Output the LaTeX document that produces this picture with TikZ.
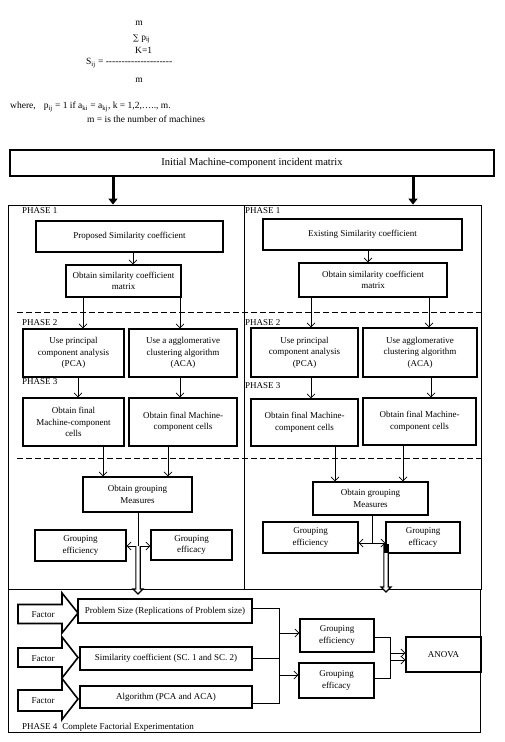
\documentclass[tikz,border=0pt]{standalone}
\usepackage{fontspec}
\setmainfont{Liberation Serif}
\newfontfamily\djv{DejaVu Serif}
\usetikzlibrary{arrows.meta}
\newcommand\bxf{\fontsize{9}{11.5}\selectfont}
\newcommand\bgf{\fontsize{10.5}{12}\selectfont}
\newcommand\frf{\fontsize{9.5}{11}\selectfont}
\begin{document}
\begin{tikzpicture}[x=1pt,y=-1pt,
 box/.style={draw,line width=1.4pt,align=center,inner sep=1pt,font=\bxf},
 frm/.style={draw,line width=0.8pt,inner sep=0pt},
 lab/.style={inner sep=0pt,font=\bxf,anchor=west},
 ftx/.style={inner sep=0pt,font=\frf},
 conn/.style={line width=0.7pt},
 arr/.style={line width=0.7pt,-{Straight Barb[length=4pt,width=8pt]}},
 fat/.style={line width=3pt,-{Triangle[length=6pt,width=9pt]}},
 dsh/.style={line width=0.7pt,dash pattern=on 6pt off 3pt},
 dbl/.style={line width=1.1pt,fill=white,line join=miter},
 fact/.style={draw,line width=1.6pt,line join=miter},
]
\useasboundingbox (0,0) rectangle (504,742);
\fill[white] (0,0) rectangle (504,742);

% formula
\node[ftx] (fm1) at (139,23) {m};
\node[ftx,anchor=west] (fm2) at (133,39) {{\djv\fontsize{8}{9}\selectfont ∑} p\textsubscript{ij}};
\node[ftx,anchor=west] (fm3) at (135,50.5) {K=1};
\node[ftx,anchor=west] (fm4) at (86,63) {S\textsubscript{ij} = -{}-{}-{}-{}-{}-{}-{}-{}-{}-{}-{}-{}-{}-{}-{}-{}-{}-{}-{}-{}-};
\node[ftx] (fm5) at (139,80) {m};
\node[ftx,anchor=west] (fm6) at (10,107) {where,\hspace{8pt}p\textsubscript{ij} = 1 if a\textsubscript{ki} = a\textsubscript{kj}, k = 1,2,….., m.};
\node[ftx,anchor=west] (fm7) at (87,119) {m = is the number of machines};

% top box and frames
\node[box,font=\bgf,minimum width=484pt,minimum height=26pt] (init) at (252,163) {Initial Machine-component incident matrix};
\node[frm,minimum width=236pt,minimum height=384pt] (f1) at (126,397) {};
\node[frm,minimum width=237pt,minimum height=384pt] (f2) at (362.5,397) {};
\node[frm,minimum width=472pt,minimum height=143pt] (f3) at (244,660.5) {};
\draw[fat] (init.south -| 113,0) -- (f1.north -| 113,0);
\draw[fat] (init.south -| 413,0) -- (f2.north -| 413,0);

\draw[dsh] (17,312) -- (481,312);
\draw[dsh] (17,458) -- (481,458);

\node[lab] (l1a) at (22,211) {PHASE 1};
\node[lab] (l1b) at (245,211) {PHASE 1};
\node[lab] (l2a) at (22,323) {PHASE 2};
\node[lab] (l2b) at (245,323) {PHASE 2};
\node[lab] (l3a) at (22,382) {PHASE 3};
\node[lab] (l3b) at (245,386) {PHASE 3};

% left column
\node[box,minimum width=187pt,minimum height=31pt] (prop) at (129.5,236.5) {Proposed Similarity coefficient};
\node[box,minimum width=115pt,minimum height=32pt] (mat1) at (123.5,281) {Obtain similarity coefficient\\matrix};
\node[box,minimum width=101pt,minimum height=48pt] (pca1) at (73.5,353) {Use principal\\component analysis\\(PCA)};
\node[box,minimum width=108pt,minimum height=48pt] (aca1) at (183,353) {Use a agglomerative\\clustering algorithm\\(ACA)};
\node[box,minimum width=101pt,minimum height=48pt] (fin1a) at (73.5,422) {Obtain final\\Machine-component\\cells};
\node[box,minimum width=108pt,minimum height=48pt] (fin1b) at (183,422) {Obtain final Machine-\\component cells};
\node[box,minimum width=109pt,minimum height=35pt] (meas1) at (137.5,494.5) {Obtain grouping\\Measures};
\node[box,minimum width=91pt,minimum height=31pt] (eff1) at (80.5,545.5) {Grouping\\efficiency};
\node[box,minimum width=81pt,minimum height=30pt] (efc1) at (191.5,545) {Grouping\\efficacy};

\draw[arr] (prop.south -| 133,0) -- (mat1.north -| 133,0);
\draw[arr] (mat1.south -| 83,0) -- (pca1.north -| 83,0);
\draw[arr] (mat1.south -| 180,0) -- (aca1.north -| 180,0);
\draw[arr] (pca1.south -| 78,0) -- (fin1a.north -| 78,0);
\draw[arr] (aca1.south -| 180,0) -- (fin1b.north -| 180,0);
\draw[arr] (fin1a.south -| 103,0) -- (meas1.north -| 103,0);
\draw[arr] (fin1b.south -| 168,0) -- (meas1.north -| 168,0);
\coordinate (j1) at (138,546);
\draw[conn] (meas1.south -| j1) -- (j1);
\draw[arr] (j1) -- (eff1.east |- j1);
\draw[arr] (j1) -- (efc1.west |- j1);
\draw[dbl] (j1) ++(-2.2,0) -- ++(0,43) -- ++(-2.8,0) -- ++(5,5) -- ++(5,-5) -- ++(-2.8,0) -- ++(0,-43);

% right column
\node[box,minimum width=199pt,minimum height=31pt] (exist) at (362.5,234.5) {Existing Similarity coefficient};
\node[box,minimum width=148pt,minimum height=34pt] (mat2) at (373,280) {Obtain similarity coefficient\\matrix};
\node[box,minimum width=107pt,minimum height=49pt] (pca2) at (304.5,352.5) {Use principal\\component analysis\\(PCA)};
\node[box,minimum width=114pt,minimum height=49pt] (aca2) at (420,352.5) {Use agglomerative\\clustering algorithm\\(ACA)};
\node[box,minimum width=107pt,minimum height=47pt] (fin2a) at (304.5,422.5) {Obtain final Machine-\\component cells};
\node[box,minimum width=113pt,minimum height=47pt] (fin2b) at (419.5,421.5) {Obtain final Machine-\\component cells};
\node[box,minimum width=115pt,minimum height=33pt] (meas2) at (370.5,498.5) {Obtain grouping\\Measures};
\node[box,minimum width=95pt,minimum height=31pt] (eff2) at (310.5,537.5) {Grouping\\efficiency};
\node[box,minimum width=74pt,minimum height=31pt] (efc2) at (423,537.5) {Grouping\\efficacy};

\draw[arr] (exist.south -| 368,0) -- (mat2.north -| 368,0);
\draw[arr] (mat2.south -| 311,0) -- (pca2.north -| 311,0);
\draw[arr] (mat2.south -| 429,0) -- (aca2.north -| 429,0);
\draw[arr] (pca2.south -| 311,0) -- (fin2a.north -| 311,0);
\draw[arr] (aca2.south -| 431,0) -- (fin2b.north -| 431,0);
\draw[arr] (fin2a.south -| 335,0) -- (meas2.north -| 335,0);
\draw[arr] (fin2b.south -| 403,0) -- (meas2.north -| 403,0);
\coordinate (j2) at (372,543);
\draw[conn] (meas2.south -| j2) -- (j2);
\draw[arr] (j2) -- (eff2.east |- j2);
\draw[arr] (j2) -- (efc2.west |- j2);
\coordinate (j3) at (386,544);
\draw[dbl] (j3) ++(-2.2,0) -- ++(0,43) -- ++(-2.8,0) -- ++(5,5) -- ++(5,-5) -- ++(-2.8,0) -- ++(0,-43);
\fill (383.8,544) rectangle (388.2,553);

% phase 4
\draw[fact] (18,604.5) -- (62,604.5) -- (62,593) -- (78,613) -- (62,633) -- (62,623.5) -- (18,623.5) -- cycle;
\draw[fact] (18,648) -- (62,648) -- (62,637) -- (78,657.5) -- (62,678) -- (62,667) -- (18,667) -- cycle;
\draw[fact] (18,690) -- (62,690) -- (62,678.5) -- (78,699) -- (62,719.5) -- (62,711) -- (18,711) -- cycle;
\node[ftx,font=\bxf] (fa1) at (43,615) {Factor};
\node[ftx,font=\bxf] (fa2) at (43,659) {Factor};
\node[ftx,font=\bxf] (fa3) at (43,701) {Factor};

\node[box,minimum width=174pt,minimum height=24pt] (ps) at (165,611) {Problem Size (Replications of Problem size)};
\node[box,minimum width=172pt,minimum height=23pt] (sc) at (166,658.5) {Similarity coefficient (SC. 1 and SC. 2)};
\node[box,minimum width=172pt,minimum height=22pt] (alg) at (166,697) {Algorithm (PCA and ACA)};
\node[box,minimum width=74pt,minimum height=33pt] (eff3) at (337,635.5) {Grouping\\efficiency};
\node[box,minimum width=75pt,minimum height=35pt] (efc3) at (336.5,680.5) {Grouping\\efficacy};
\node[box,minimum width=75pt,minimum height=35pt] (anova) at (443.5,654.5) {ANOVA};
\node[lab] (l4) at (22,727) {PHASE 4\hspace{5pt}Complete Factorial Experimentation};

\coordinate (v1) at (279,608);
\coordinate (v3) at (279,703);
\draw[conn] (ps.east |- v1) -- (v1) -- (v3) -- (alg.east |- v3);
\draw[conn] (sc.east) -- (sc.east -| v1);
\draw[arr] (279,633) -- (eff3.west |- 0,633);
\draw[arr] (279,675) -- (efc3.west |- 0,675);
\coordinate (v4) at (390,637);
\coordinate (v5) at (390,678);
\draw[conn] (eff3.east |- v4) -- (v4) -- (v5) -- (efc3.east |- v5);
\draw[arr] (390,653) -- (anova.west |- 0,653);
\draw[arr] (390,660) -- (anova.west |- 0,660);
\end{tikzpicture}
\end{document}
